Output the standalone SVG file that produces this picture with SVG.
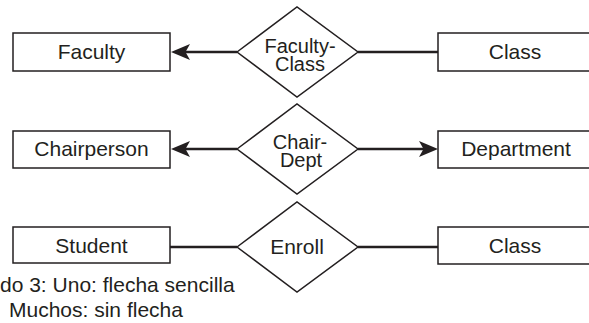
<svg xmlns="http://www.w3.org/2000/svg" width="589" height="323" viewBox="0 0 589 323">
<style>
.box{fill:#fff;stroke:#231f20;stroke-width:1.5}
.dia{fill:#fff;stroke:#231f20;stroke-width:1.5}
.ln{stroke:#231f20;stroke-width:2.5;fill:none}
text{font-family:"Liberation Sans",Arial,sans-serif;font-size:21px;fill:#231f20}
.c{text-anchor:middle}
.d{font-size:20px}
</style>
<defs>
<marker id="arr" viewBox="0 0 19 16" refX="5" refY="8" markerWidth="19" markerHeight="16" markerUnits="userSpaceOnUse" orient="auto">
<path d="M0,0 L19,8 L0,16 L4.5,8 Z" fill="#231f20"/>
</marker>
</defs>
<rect width="589" height="323" fill="#fff"/>
<g id="connectors">
<line class="ln" x1="237" y1="52" x2="185" y2="52" marker-end="url(#arr)"/>
<line class="ln" x1="358" y1="52" x2="438" y2="52"/>
<line class="ln" x1="237" y1="149" x2="185" y2="149" marker-end="url(#arr)"/>
<line class="ln" x1="358" y1="149" x2="424" y2="149" marker-end="url(#arr)"/>
<line class="ln" x1="170" y1="247" x2="237" y2="247"/>
<line class="ln" x1="358" y1="247" x2="438" y2="247"/>
</g>
<g id="faculty"><rect class="box" x="13" y="33" width="157" height="38"/><text class="c" x="91.5" y="59">Faculty</text></g>
<g id="faculty-class"><polygon class="dia" points="237,52 297,7 358,52 297,97"/><text class="c d" x="300" y="53">Faculty-</text><text class="c d" x="300" y="71">Class</text></g>
<g id="class1"><rect class="box" x="438" y="33" width="160" height="38"/><text class="c" x="515" y="59">Class</text></g>
<g id="chairperson"><rect class="box" x="13" y="131" width="157" height="37"/><text class="c" x="91.5" y="156">Chairperson</text></g>
<g id="chair-dept"><polygon class="dia" points="237,149 297,104 358,149 297,194"/><text class="c d" x="300" y="149">Chair-</text><text class="c d" x="301" y="167">Dept</text></g>
<g id="department"><rect class="box" x="438" y="131" width="160" height="37"/><text class="c" x="516" y="156">Department</text></g>
<g id="student"><rect class="box" x="13" y="227" width="157" height="36"/><text class="c" x="91.5" y="253">Student</text></g>
<g id="enroll"><polygon class="dia" points="237,247 297,202 358,247 297,292"/><text class="c" x="297" y="254">Enroll</text></g>
<g id="class2"><rect class="box" x="438" y="227" width="160" height="37"/><text class="c" x="515" y="253">Class</text></g>
<g id="caption">
<text x="0" y="292">do 3: Uno: flecha sencilla</text>
<text x="9" y="317">Muchos: sin flecha</text>
</g>
</svg>
